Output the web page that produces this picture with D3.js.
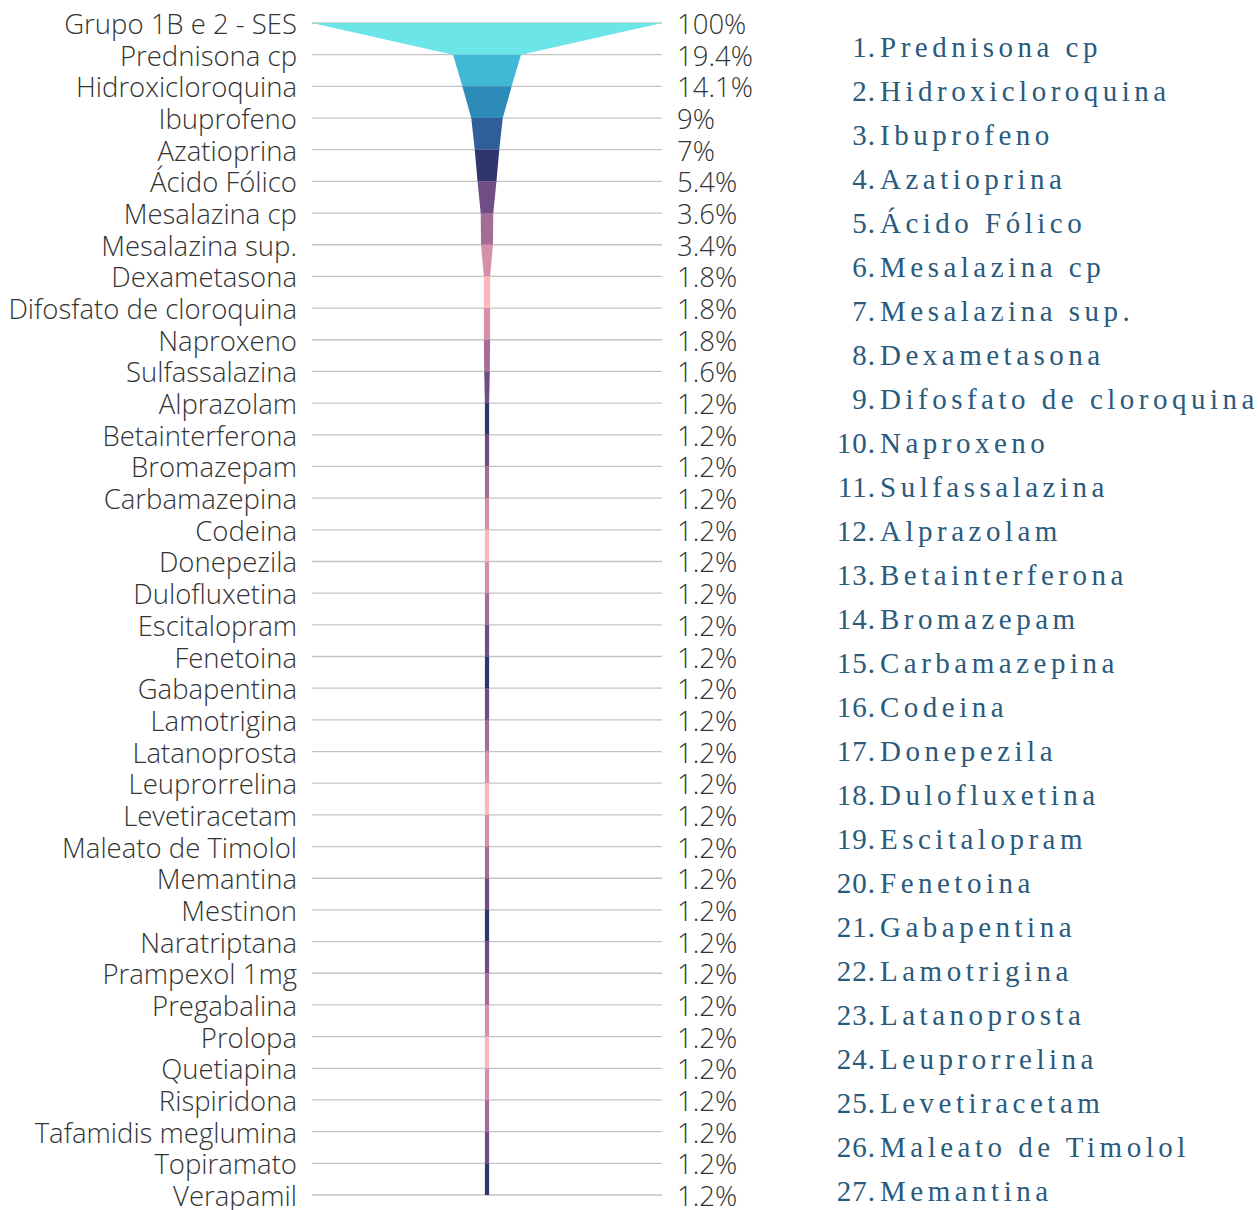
<!DOCTYPE html>
<html>
<head>
<meta charset="utf-8">
<script src="https://cdn.jsdelivr.net/npm/d3@7"></script>
<style>
  body { margin: 0; background: #fff; }
  svg { display: block; }
</style>
</head>
<body>
<svg id="chart" width="1258" height="1210"></svg>
<script>
// funnel stages, top to bottom
const labels = [
  "Grupo 1B e 2 - SES", "Prednisona cp", "Hidroxicloroquina", "Ibuprofeno", "Azatioprina",
  "Ácido Fólico", "Mesalazina cp", "Mesalazina sup.", "Dexametasona", "Difosfato de cloroquina",
  "Naproxeno", "Sulfassalazina", "Alprazolam", "Betainterferona", "Bromazepam",
  "Carbamazepina", "Codeina", "Donepezila", "Dulofluxetina", "Escitalopram",
  "Fenetoina", "Gabapentina", "Lamotrigina", "Latanoprosta", "Leuprorrelina",
  "Levetiracetam", "Maleato de Timolol", "Memantina", "Mestinon", "Naratriptana",
  "Prampexol 1mg", "Pregabalina", "Prolopa", "Quetiapina", "Rispiridona",
  "Tafamidis meglumina", "Topiramato", "Verapamil"
];
const values = [
  100, 19.4, 14.1, 9, 7, 5.4, 3.6, 3.4, 1.8, 1.8,
  1.8, 1.6, 1.2, 1.2, 1.2, 1.2, 1.2, 1.2, 1.2, 1.2,
  1.2, 1.2, 1.2, 1.2, 1.2, 1.2, 1.2, 1.2, 1.2, 1.2,
  1.2, 1.2, 1.2, 1.2, 1.2, 1.2, 1.2, 1.2
];
// numbered list on the right (first 27 medicines)
const listItems = labels.slice(1, 28);

const palette = ["#6ce5e8", "#41b8d5", "#2d8bba", "#2f5f98", "#31356e",
                 "#704e85", "#a56d96", "#d490aa", "#feb6bb"];

// colour for stage i: first 8 go down the palette, then it bounces lightpink <-> navy
function stageColor(i) {
  if (i < 8) return palette[i];
  const k = (i - 8) % 8;
  return palette[k <= 4 ? 8 - k : k];
}

const svg = d3.select("#chart");
const left = 312, right = 662, cx = (left + right) / 2;

const y = d3.scalePoint().domain(labels).range([23, 1195]);
const w = d3.scaleLinear().domain([0, 100]).range([0, right - left]);

// gridlines
svg.append("g").selectAll("line")
  .data(labels)
  .join("line")
  .attr("x1", left).attr("x2", right)
  .attr("y1", d => y(d)).attr("y2", d => y(d))
  .attr("stroke", "#c4c4c4")
  .attr("stroke-width", 1.3);

// stages: trapezoid from row i to row i+1
const stages = d3.range(labels.length - 1);
svg.append("g").selectAll("path")
  .data(stages)
  .join("path")
  .attr("d", i => {
    const y0 = y(labels[i]), y1 = y(labels[i + 1]);
    const h0 = w(values[i]) / 2, h1 = w(values[i + 1]) / 2;
    return `M${cx - h0},${y0}L${cx + h0},${y0}L${cx + h1},${y1}L${cx - h1},${y1}Z`;
  })
  .attr("fill", i => stageColor(i));

const labelFont = "'Open Sans', sans-serif";

svg.append("g").selectAll("text")
  .data(labels)
  .join("text")
  .attr("x", 297)
  .attr("y", d => y(d))
  .attr("dy", "0.4em")
  .attr("text-anchor", "end")
  .style("font-family", labelFont)
  .style("font-weight", 300)
  .style("font-size", "27.5px")
  .attr("fill", "#333")
  .text(d => d);

svg.append("g").selectAll("text")
  .data(labels)
  .join("text")
  .attr("x", 677)
  .attr("y", d => y(d))
  .attr("dy", "0.4em")
  .style("font-family", labelFont)
  .style("font-weight", 300)
  .style("font-size", "27.5px")
  .attr("fill", "#333")
  .text((d, i) => values[i] + "%");

// numbered list
const listY = d3.scalePoint().domain(listItems).range([57, 1201]);
const listFont = "'Liberation Serif', serif";
const list = svg.append("g");

list.selectAll("text.num")
  .data(listItems)
  .join("text")
  .attr("class", "num")
  .attr("x", 876)
  .attr("y", d => listY(d))
  .attr("text-anchor", "end")
  .style("font-family", listFont)
  .style("font-size", "29px")
  .style("letter-spacing", "1px")
  .attr("fill", "#2a5a7c")
  .text((d, i) => (i + 1) + ".");

list.selectAll("text.name")
  .data(listItems)
  .join("text")
  .attr("class", "name")
  .attr("x", 880)
  .attr("y", d => listY(d))
  .style("font-family", listFont)
  .style("font-size", "29px")
  .style("letter-spacing", "4.5px")
  .attr("fill", "#2a5a7c")
  .text(d => d);
</script>
</body>
</html>
